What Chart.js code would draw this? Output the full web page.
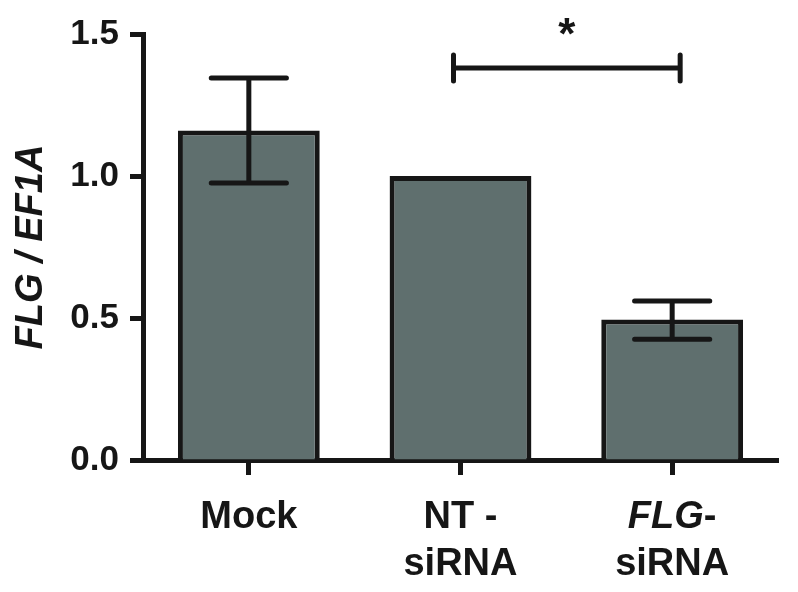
<!DOCTYPE html>
<html>
<head>
<meta charset="utf-8">
<script src="https://cdn.jsdelivr.net/npm/chart.js@4"></script>
<style>
html, body { margin: 0; padding: 0; background: #fff; }
</style>
</head>
<body>
<canvas id="chart" width="798" height="592"></canvas>
<script>
const categories = ['Mock', 'NT-siRNA', 'FLG-siRNA'];
const means = [1.16, 1.0, 0.495];
const errHigh = [1.345, null, 0.56];
const errLow = [0.975, null, 0.425];
const yTicks = [0, 0.5, 1.0, 1.5];
// each label: lines, each line a list of [text, italic]
const xLabelLines = [
    [[['Mock', false]]],
    [[['NT -', false]], [['siRNA', false]]],
    [[['FLG', true], ['-', false]], [['siRNA', false]]]
];
const sigPair = [1, 2];
const sigLevel = 1.38;
const sigMark = '*';

const ink = '#161616';
const barFill = '#5f6f6e';
const family = '"Liberation Sans", Arial, sans-serif';

const extras = {
    id: 'extras',
    afterDatasetsDraw(chart) {
        const ctx = chart.ctx;
        const xs = chart.scales.x, ys = chart.scales.y;
        const bars = chart.getDatasetMeta(0).data;
        ctx.save();
        ctx.strokeStyle = ink;
        ctx.lineWidth = 5;
        ctx.lineCap = 'round';

        // error bars
        means.forEach((m, i) => {
            if (errHigh[i] == null)
                return;
            const cx = xs.getPixelForValue(i);
            const half = bars[i].width * 0.265;
            const top = ys.getPixelForValue(errHigh[i]);
            const bot = ys.getPixelForValue(errLow[i]);
            ctx.beginPath();
            ctx.moveTo(cx, top); ctx.lineTo(cx, bot);
            ctx.moveTo(cx - half, top); ctx.lineTo(cx + half, top);
            ctx.moveTo(cx - half, bot); ctx.lineTo(cx + half, bot);
            ctx.stroke();
        });

        // significance bracket
        const x1 = xs.getPixelForValue(sigPair[0]) - 7;
        const x2 = xs.getPixelForValue(sigPair[1]) + 8;
        const sy = ys.getPixelForValue(sigLevel);
        ctx.beginPath();
        ctx.moveTo(x1, sy); ctx.lineTo(x2, sy);
        ctx.moveTo(x1, sy - 13); ctx.lineTo(x1, sy + 13);
        ctx.moveTo(x2, sy - 13); ctx.lineTo(x2, sy + 13);
        ctx.stroke();
        ctx.fillStyle = ink;
        ctx.font = 'bold 44px ' + family;
        ctx.textAlign = 'center';
        ctx.textBaseline = 'alphabetic';
        ctx.fillText(sigMark, (x1 + x2) / 2, sy - 19);
        ctx.restore();
    },
    afterDraw(chart) {
        const ctx = chart.ctx;
        const xs = chart.scales.x;
        ctx.save();
        ctx.fillStyle = ink;
        ctx.textBaseline = 'alphabetic';
        ctx.textAlign = 'left';
        xLabelLines.forEach((lines, i) => {
            const cx = xs.getPixelForValue(i);
            lines.forEach((parts, li) => {
                const fonts = parts.map(p => (p[1] ? 'italic ' : '') + 'bold 38px ' + family);
                let total = 0;
                const widths = parts.map((p, k) => {
                    ctx.font = fonts[k];
                    const w = ctx.measureText(p[0]).width;
                    total += w;
                    return w;
                });
                let x = cx - total / 2;
                const y = xs.top + 68 + li * 47;
                parts.forEach((p, k) => {
                    ctx.font = fonts[k];
                    ctx.fillText(p[0], x, y);
                    x += widths[k];
                });
            });
        });
        ctx.restore();
    }
};

new Chart(document.getElementById('chart'), {
    type: 'bar',
    data: {
        labels: categories,
        datasets: [{
            data: means,
            backgroundColor: barFill,
            borderColor: ink,
            borderWidth: 5,
            borderSkipped: 'start',
            barPercentage: 0.67,
            categoryPercentage: 1.0
        }]
    },
    options: {
        responsive: false,
        animation: false,
        devicePixelRatio: 1,
        layout: { padding: { top: 34, right: 20, left: 0, bottom: 0 } },
        plugins: { legend: { display: false }, tooltip: { enabled: false } },
        scales: {
            x: {
                offset: true,
                grid: {
                    offset: false,
                    drawOnChartArea: false,
                    drawTicks: true,
                    tickLength: 15,
                    tickWidth: 5,
                    color: ink
                },
                border: { color: ink, width: 5 },
                ticks: { display: false },
                afterFit(scale) { scale.height = 132; }
            },
            y: {
                min: 0,
                max: 1.5,
                afterBuildTicks(scale) {
                    scale.ticks = yTicks.map(v => ({ value: v }));
                },
                ticks: {
                    callback: v => Number(v).toFixed(1),
                    color: ink,
                    padding: 11,
                    font: { family: family, size: 35, weight: 'bold' }
                },
                grid: {
                    drawOnChartArea: false,
                    drawTicks: true,
                    tickLength: 13,
                    tickWidth: 5,
                    color: ink
                },
                border: { color: ink, width: 5 },
                title: {
                    display: true,
                    text: 'FLG / EF1A',
                    color: ink,
                    padding: { top: 9, bottom: 0 },
                    font: { family: family, size: 38, weight: 'bold', style: 'italic' }
                },
                afterFit(scale) { scale.width = 143; }
            }
        }
    },
    plugins: [extras]
});
</script>
</body>
</html>
